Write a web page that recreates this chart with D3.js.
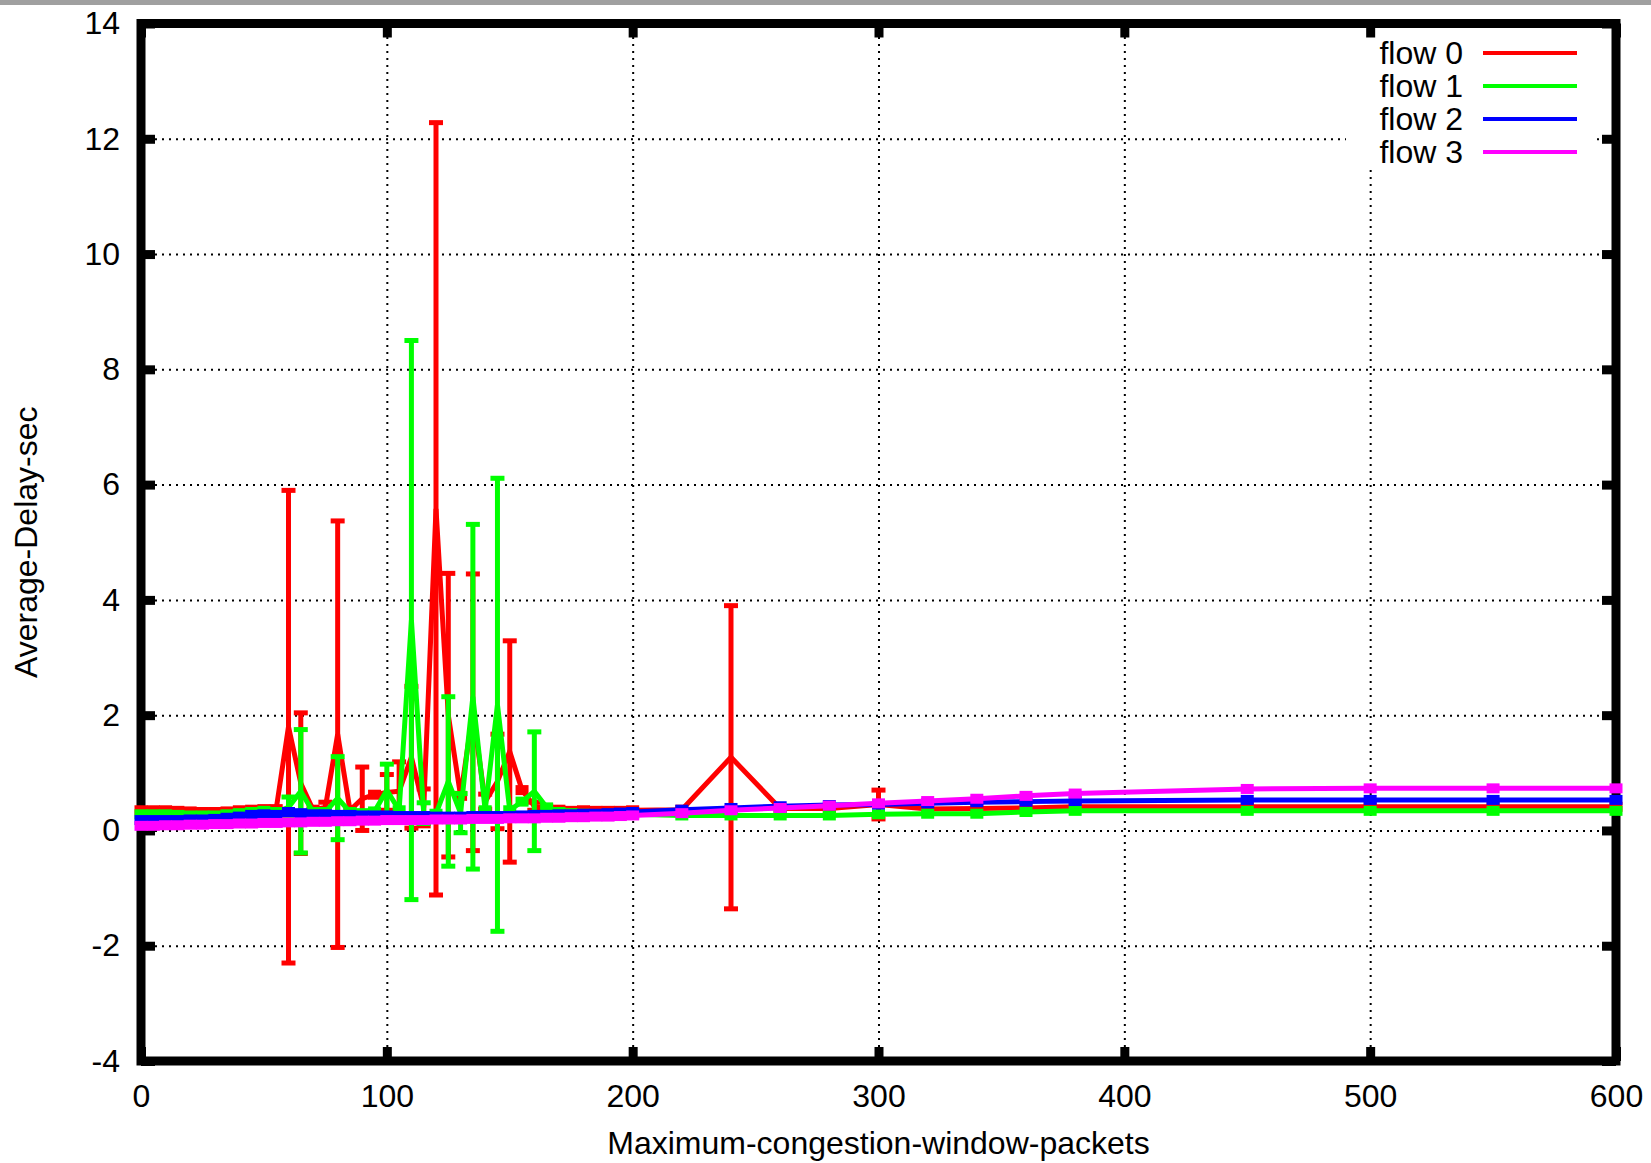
<!DOCTYPE html>
<html>
<head>
<meta charset="utf-8">
<script src="https://cdn.jsdelivr.net/npm/d3@7/dist/d3.min.js"></script>
<style>
  body { margin: 0; background: #fff; }
  text { font-family: "Liberation Sans", Arial, sans-serif; }
</style>
</head>
<body>
<div id="chart"></div>
<script>
// window sizes (x axis)
var windowSizes = [0, 5, 10, 15, 20, 25, 30, 35, 40, 45, 50, 55, 60, 65, 70, 75, 80, 85, 90, 95,
                   100, 105, 110, 115, 120, 125, 130, 135, 140, 145, 150, 155, 160, 165, 170, 175, 180, 185, 190, 195,
                   200, 220, 240, 260, 280, 300, 320, 340, 360, 380, 450, 500, 550, 600];

var flow0 = [0.35, 0.35, 0.35, 0.34, 0.33, 0.32, 0.32, 0.33, 0.35, 0.36, 0.37, 0.37, 1.80, 0.82, 0.36, 0.40, 1.67, 0.35, 0.55, 0.62,
             0.66, 0.68, 1.27, 0.40, 5.58, 2.00, 0.60, 2.05, 0.50, 0.85, 1.37, 0.70, 0.42, 0.38, 0.36, 0.34, 0.35, 0.34, 0.34, 0.34,
             0.35, 0.36, 1.27, 0.38, 0.38, 0.45, 0.37, 0.38, 0.39, 0.41, 0.41, 0.41, 0.41, 0.41];
var flow0Err = [0, 0, 0, 0, 0, 0, 0, 0, 0, 0, 0, 0, 4.10, 1.22, 0, 0.09, 3.70, 0, 0.55, 0,
                0.31, 0.51, 1.23, 0.32, 6.70, 2.46, 0, 2.40, 0.13, 0.82, 1.92, 0, 0.07, 0, 0, 0, 0, 0, 0, 0,
                0, 0, 2.63, 0, 0, 0.25, 0, 0, 0, 0, 0, 0, 0, 0];

var flow1 = [0.28, 0.28, 0.28, 0.27, 0.26, 0.26, 0.26, 0.28, 0.30, 0.32, 0.34, 0.32, 0.40, 0.68, 0.32, 0.32, 0.56, 0.32, 0.30, 0.33,
             0.70, 0.35, 3.65, 0.30, 0.29, 0.85, 0.30, 2.32, 0.35, 2.18, 0.35, 0.50, 0.68, 0.40, 0.32, 0.30, 0.29, 0.28, 0.28, 0.28,
             0.28, 0.26, 0.26, 0.26, 0.26, 0.28, 0.29, 0.29, 0.32, 0.34, 0.34, 0.34, 0.34, 0.34];
var flow1Err = [0, 0, 0, 0, 0, 0, 0, 0, 0, 0, 0, 0, 0.18, 1.07, 0, 0, 0.72, 0, 0, 0,
                0.45, 0, 4.85, 0.18, 0, 1.47, 0.34, 2.99, 0, 3.93, 0, 0, 1.03, 0, 0, 0, 0, 0, 0, 0,
                0, 0, 0, 0, 0, 0, 0, 0, 0, 0, 0, 0, 0, 0];

var flow2 = [0.18, 0.18, 0.18, 0.18, 0.19, 0.19, 0.20, 0.22, 0.24, 0.27, 0.28, 0.27, 0.32, 0.30, 0.28, 0.28, 0.27, 0.27, 0.26, 0.26,
             0.26, 0.25, 0.25, 0.25, 0.24, 0.24, 0.24, 0.25, 0.25, 0.25, 0.25, 0.26, 0.27, 0.27, 0.28, 0.28, 0.29, 0.29, 0.30, 0.31,
             0.32, 0.36, 0.39, 0.42, 0.44, 0.45, 0.47, 0.49, 0.50, 0.51, 0.53, 0.53, 0.53, 0.53];

var flow3 = [0.08, 0.08, 0.09, 0.09, 0.10, 0.10, 0.11, 0.11, 0.12, 0.12, 0.13, 0.13, 0.14, 0.14, 0.15, 0.15, 0.16, 0.16, 0.17, 0.17,
             0.18, 0.18, 0.18, 0.18, 0.19, 0.19, 0.19, 0.20, 0.20, 0.20, 0.21, 0.21, 0.21, 0.22, 0.22, 0.23, 0.23, 0.24, 0.24, 0.25,
             0.26, 0.30, 0.35, 0.39, 0.43, 0.47, 0.51, 0.55, 0.60, 0.64, 0.72, 0.73, 0.73, 0.73];

var flowNames = ["flow 0", "flow 1", "flow 2", "flow 3"];
var flowColors = ["#ff0000", "#00ff00", "#0000ff", "#ff00ff"];
var xTicks = [0, 100, 200, 300, 400, 500, 600];
var yTicks = [-4, -2, 0, 2, 4, 6, 8, 10, 12, 14];

(function() {
  var W = 1651, H = 1163;
  var pLeft = 141, pRight = 1616, pTop = 23.5, pBottom = 1061;

  var svg = d3.select("#chart").append("svg")
    .attr("width", W)
    .attr("height", H);

  // grey strip at the very top
  svg.append("rect").attr("x", 0).attr("y", 0).attr("width", W).attr("height", 5).attr("fill", "#a0a0a0");

  var x = d3.scaleLinear().domain([0, 600]).range([pLeft, pRight]);
  var y = d3.scaleLinear().domain([-4, 14]).range([pBottom, pTop]);
  var plain = function(d) { return String(d); }; // keep ascii hyphen for negatives

  // dotted grid
  var grid = svg.append("g").attr("class", "grid");
  grid.append("g")
    .attr("transform", "translate(0," + pBottom + ")")
    .call(d3.axisBottom(x).tickValues(xTicks).tickSize(-(pBottom - pTop)).tickFormat(""));
  grid.append("g")
    .attr("transform", "translate(" + pLeft + ",0)")
    .call(d3.axisLeft(y).tickValues(yTicks).tickSize(-(pRight - pLeft)).tickFormat(""));
  grid.selectAll(".domain").remove();
  grid.selectAll("line")
    .attr("stroke", "#000")
    .attr("stroke-width", 2)
    .attr("stroke-dasharray", "2,5");

  // white box behind the key
  svg.append("rect")
    .attr("x", 1346).attr("y", 28)
    .attr("width", 251).attr("height", 140)
    .attr("fill", "#fff");

  // border
  svg.append("rect")
    .attr("x", pLeft).attr("y", pTop)
    .attr("width", pRight - pLeft).attr("height", pBottom - pTop)
    .attr("fill", "none")
    .attr("stroke", "#000")
    .attr("stroke-width", 9);

  // tick marks on all four sides, pointing in
  var tickLen = 14;
  function styleAxis(g) {
    g.select(".domain").remove();
    g.selectAll(".tick line").attr("stroke", "#000").attr("stroke-width", 9);
    g.selectAll("text")
      .attr("fill", "#000")
      .style("font-size", "32px")
      .style("font-family", "'Liberation Sans', Arial, sans-serif");
  }

  svg.append("g")
    .attr("transform", "translate(0," + pBottom + ")")
    .call(d3.axisBottom(x).tickValues(xTicks).tickFormat(plain).tickSizeInner(-tickLen).tickSizeOuter(0).tickPadding(23))
    .call(styleAxis);
  svg.append("g")
    .attr("transform", "translate(0," + pTop + ")")
    .call(d3.axisTop(x).tickValues(xTicks).tickSizeInner(-tickLen).tickSizeOuter(0).tickFormat(""))
    .call(styleAxis);
  svg.append("g")
    .attr("transform", "translate(" + pLeft + ",0)")
    .call(d3.axisLeft(y).tickValues(yTicks).tickFormat(plain).tickSizeInner(-tickLen).tickSizeOuter(0).tickPadding(21))
    .call(styleAxis);
  svg.append("g")
    .attr("transform", "translate(" + pRight + ",0)")
    .call(d3.axisRight(y).tickValues(yTicks).tickSizeInner(-tickLen).tickSizeOuter(0).tickFormat(""))
    .call(styleAxis);

  // axis titles
  svg.append("text")
    .attr("x", (pLeft + pRight) / 2)
    .attr("y", 1143)
    .attr("text-anchor", "middle")
    .attr("dominant-baseline", "central")
    .style("font-size", "32px")
    .text("Maximum-congestion-window-packets");
  svg.append("text")
    .attr("transform", "translate(26," + ((pTop + pBottom) / 2) + ") rotate(-90)")
    .attr("text-anchor", "middle")
    .attr("dominant-baseline", "central")
    .style("font-size", "32px")
    .text("Average-Delay-sec");

  // the four flows
  var flows = [
    { values: flow0, err: flow0Err },
    { values: flow1, err: flow1Err },
    { values: flow2, err: null },
    { values: flow3, err: null }
  ];

  var line = d3.line()
    .x(function(d) { return x(d.x); })
    .y(function(d) { return y(d.y); });

  var capW = 14, markW = 13, markH = 10;

  flows.forEach(function(f, i) {
    var pts = windowSizes.map(function(w, j) {
      return { x: w, y: f.values[j], e: f.err ? f.err[j] : 0 };
    });
    var color = flowColors[i];
    var g = svg.append("g").attr("class", "flow" + i);

    g.append("path")
      .datum(pts)
      .attr("d", line)
      .attr("fill", "none")
      .attr("stroke", color)
      .attr("stroke-width", 5);

    var bars = pts.filter(function(d) { return d.e > 0; });
    g.selectAll(".ebar").data(bars).enter().append("line")
      .attr("class", "ebar")
      .attr("x1", function(d) { return x(d.x); })
      .attr("x2", function(d) { return x(d.x); })
      .attr("y1", function(d) { return y(d.y - d.e); })
      .attr("y2", function(d) { return y(d.y + d.e); })
      .attr("stroke", color)
      .attr("stroke-width", 5);
    [-1, 1].forEach(function(s) {
      g.selectAll(".cap" + (s + 1)).data(bars).enter().append("line")
        .attr("x1", function(d) { return x(d.x) - capW / 2; })
        .attr("x2", function(d) { return x(d.x) + capW / 2; })
        .attr("y1", function(d) { return y(d.y + s * d.e); })
        .attr("y2", function(d) { return y(d.y + s * d.e); })
        .attr("stroke", color)
        .attr("stroke-width", 5);
    });

    // square points, left off where an error bar is drawn
    g.selectAll(".mark").data(pts.filter(function(d) { return d.e === 0; })).enter().append("rect")
      .attr("class", "mark")
      .attr("x", function(d) { return x(d.x) - markW / 2; })
      .attr("y", function(d) { return y(d.y) - markH / 2; })
      .attr("width", markW)
      .attr("height", markH)
      .attr("fill", color);
  });

  // key
  var key = svg.append("g").attr("class", "key");
  flowNames.forEach(function(name, i) {
    var ky = 53 + i * 33;
    key.append("text")
      .attr("x", 1463)
      .attr("y", ky)
      .attr("text-anchor", "end")
      .attr("dominant-baseline", "central")
      .style("font-size", "32px")
      .text(name);
    key.append("line")
      .attr("x1", 1483).attr("x2", 1577)
      .attr("y1", ky).attr("y2", ky)
      .attr("stroke", flowColors[i])
      .attr("stroke-width", 4);
  });
})();
</script>
</body>
</html>
